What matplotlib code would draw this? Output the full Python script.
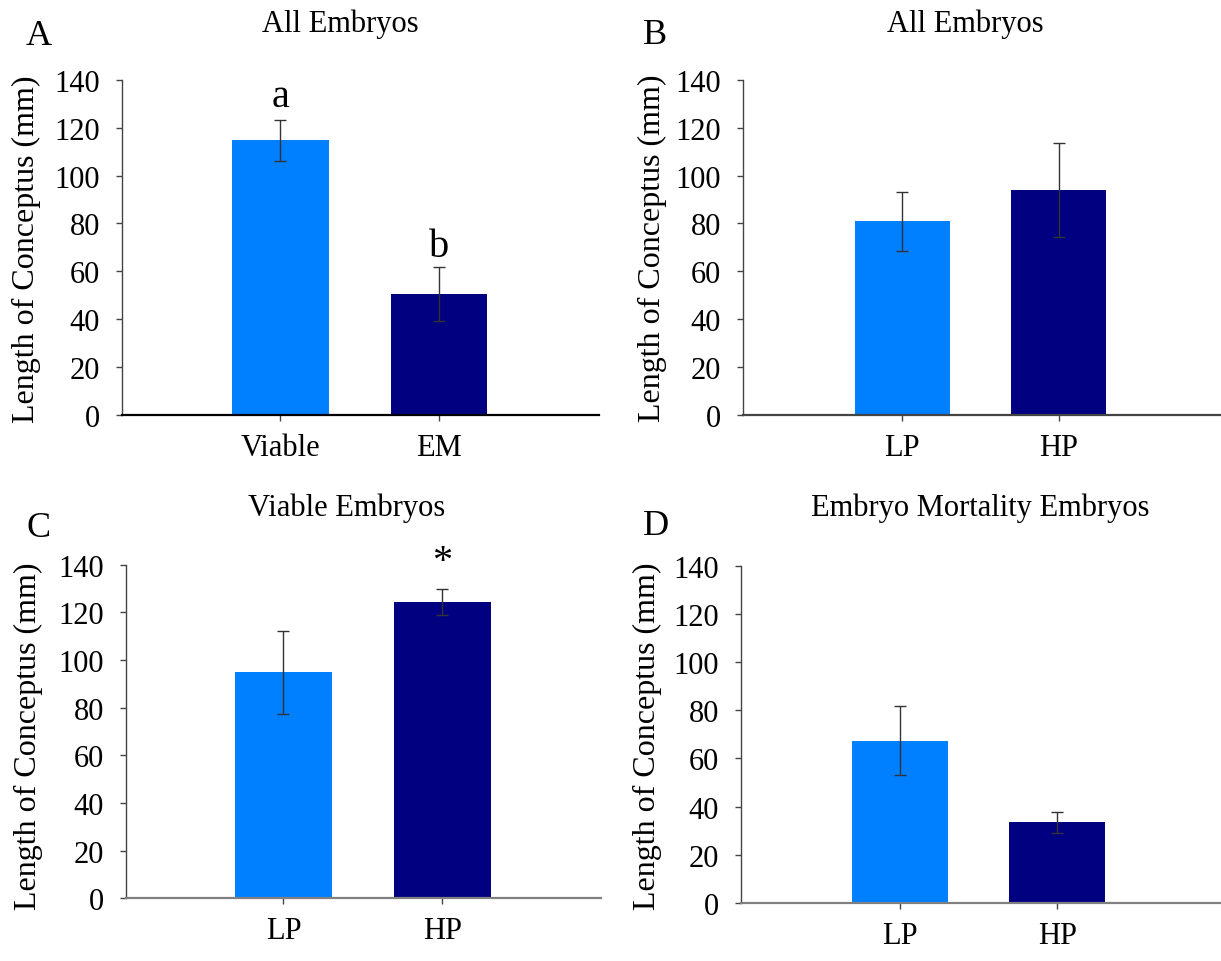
# Conceptus length by group, four panels
import matplotlib
matplotlib.use("Agg")
import matplotlib.pyplot as plt

plt.rcParams['font.family'] = ['Liberation Serif', 'DejaVu Serif']

light = '#0080FF'
dark = '#000080'

# data
labels_A = ['Viable', 'EM']
means_A = [114.8, 50.4]
sem_A = [8.5, 11.4]

labels_B = ['LP', 'HP']
means_B = [80.9, 94.1]
sem_B = [12.3, 19.6]

labels_C = ['LP', 'HP']
means_C = [94.8, 124.3]
sem_C = [17.5, 5.5]

labels_D = ['LP', 'HP']
means_D = [67.3, 33.5]
sem_D = [14.3, 4.3]

yticks = [0, 20, 40, 60, 80, 100, 120, 140]

W, H = 1221, 962
fig = plt.figure(figsize=(W / 100, H / 100), dpi=100)


def px_axes(left, top, right, bottom):
    return fig.add_axes([left / W, 1 - bottom / H, (right - left) / W, (bottom - top) / H])


def panel(ax, labels, means, sem, xlim, base_color):
    x = list(range(len(labels)))
    ax.bar(x, means, width=0.61, color=[light, dark], zorder=2)
    ax.errorbar(x, means, yerr=sem, fmt='none', ecolor='#333333',
                elinewidth=1, capsize=4, capthick=1, zorder=3)
    ax.set_xlim(*xlim)
    ax.set_ylim(0, 140)
    ax.set_yticks(yticks)
    ax.set_xticks(x)
    ax.set_xticklabels(labels)
    for s in ['top', 'right']:
        ax.spines[s].set_visible(False)
    ax.spines['bottom'].set_color(base_color)
    ax.spines['bottom'].set_linewidth(1.6)
    ax.spines['left'].set_color('#444444')
    ax.spines['left'].set_linewidth(1.0)
    ax.tick_params(axis='y', length=4, width=1, color='#444444', pad=12, labelsize=22)
    ax.tick_params(axis='x', length=4, width=1, color='#444444', pad=9, labelsize=22)


axA = px_axes(122, 81, 599, 415.7)
panel(axA, labels_A, means_A, sem_A, (-1, 2.01), '#000000')
axA.text(0, 129, 'a', ha='center', va='baseline', fontsize=29)
axA.text(1, 66.5, 'b', ha='center', va='baseline', fontsize=29)

axB = px_axes(743, 81, 1221, 415.7)
panel(axB, labels_B, means_B, sem_B, (-1.02, 2.04), '#444444')

axC = px_axes(126.3, 565.7, 601, 899.3)
panel(axC, labels_C, means_C, sem_C, (-0.99, 2.0), '#808080')
axC.text(1, 141.5, '*', ha='center', va='center', fontsize=29, clip_on=False)

axD = px_axes(741.3, 566.7, 1221, 904)
panel(axD, labels_D, means_D, sem_D, (-1.01, 2.04), '#808080')

# titles, panel letters and y labels in pixel positions
titles = ['All Embryos', 'All Embryos', 'Viable Embryos', 'Embryo Mortality Embryos']
title_pos = [(340, 31.7), (965, 31.7), (347, 516), (980.5, 516)]
letters = ['A', 'B', 'C', 'D']
letter_pos = [(26, 45), (643, 44), (26, 537), (643, 535)]
ylab_pos = [(26.4, 249), (652, 248), (28, 736), (647, 736)]

for t, (x, y) in zip(titles, title_pos):
    fig.text(x / W, 1 - y / H, t, ha='center', va='baseline', fontsize=22)
for t, (x, y) in zip(letters, letter_pos):
    fig.text(x / W, 1 - y / H, t, ha='left', va='baseline', fontsize=26)
for (x, y) in ylab_pos:
    fig.text(x / W, 1 - y / H, 'Length of Conceptus (mm)', ha='center', va='center',
             rotation=90, fontsize=23)

fig.savefig('out.png', dpi=100)
